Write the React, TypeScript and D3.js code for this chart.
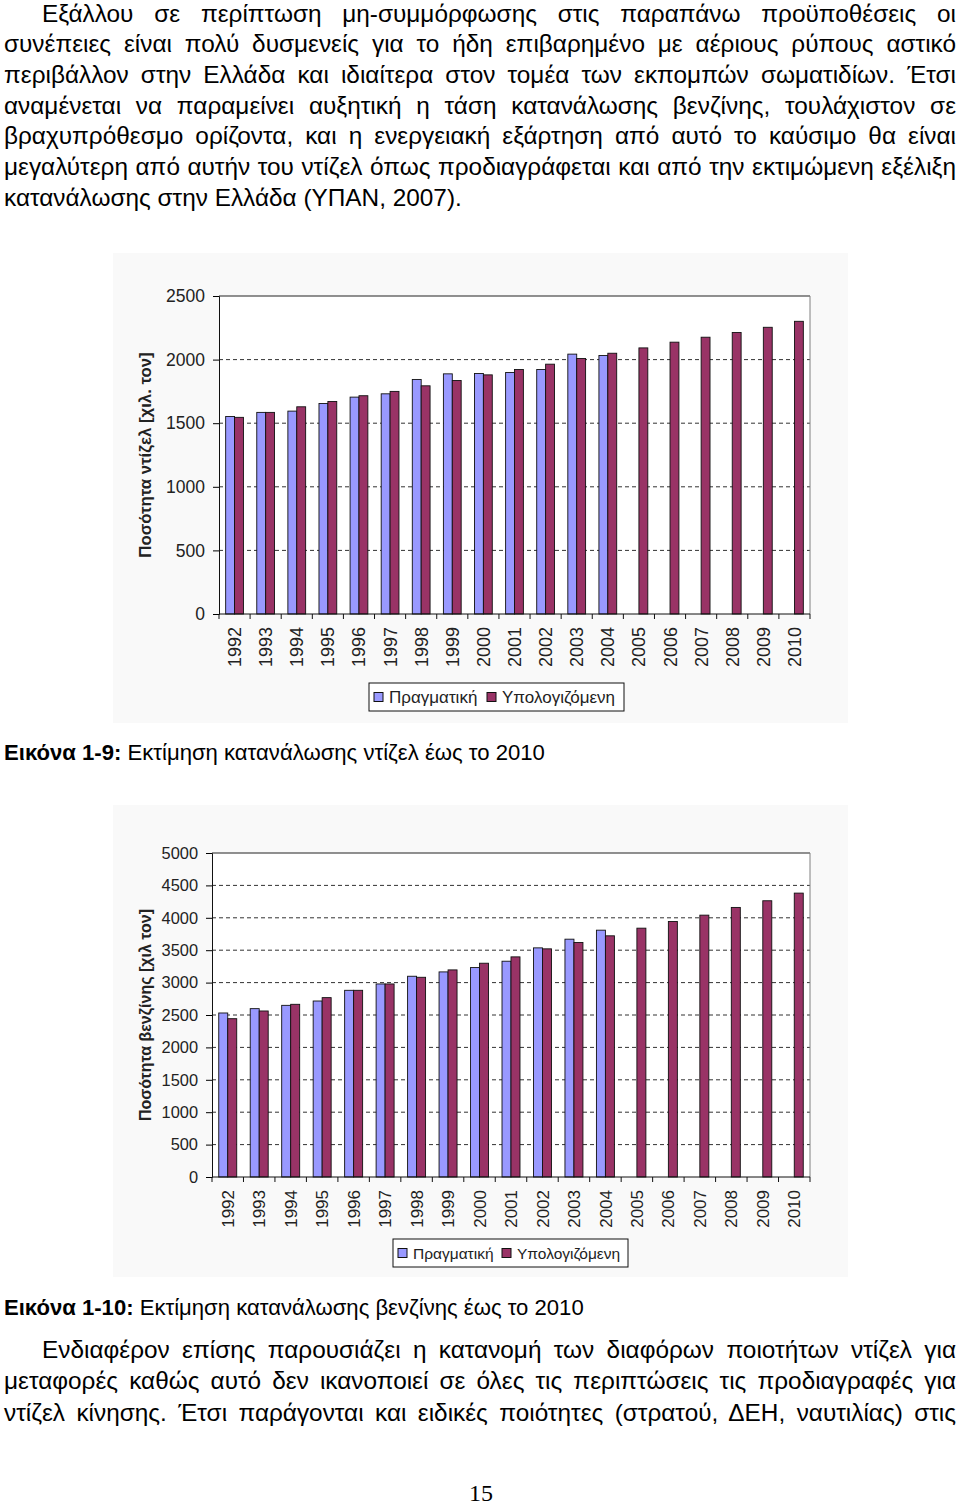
import React, { useEffect, useRef } from 'react';
import * as d3 from 'd3';

const years = ['1992','1993','1994','1995','1996','1997','1998','1999','2000','2001','2002','2003','2004','2005','2006','2007','2008','2009','2010'];
const dieselActual: (number | null)[] = [1553,1585,1595,1655,1705,1731,1844,1888,1891,1899,1922,2043,2032,null,null,null,null,null,null];
const dieselEstimated = [1546,1585,1629,1671,1716,1750,1794,1836,1880,1922,1964,2009,2050,2092,2137,2176,2213,2254,2301];
const petrolActual: (number | null)[] = [2531,2598,2649,2716,2881,2979,3098,3165,3232,3330,3536,3670,3809,null,null,null,null,null,null];
const petrolEstimated = [2443,2562,2665,2768,2881,2979,3082,3196,3299,3397,3521,3619,3722,3840,3943,4041,4160,4263,4381];
const dieselTicks = [0,500,1000,1500,2000,2500];
const petrolTicks = [0,500,1000,1500,2000,2500,3000,3500,4000,4500,5000];
const seriesNames = ['Πραγματική','Υπολογιζόμενη'];

const topParagraph = [
  'Εξάλλου σε περίπτωση μη-συμμόρφωσης στις παραπάνω προϋποθέσεις οι',
  'συνέπειες είναι πολύ δυσμενείς για το ήδη επιβαρημένο με αέριους ρύπους αστικό',
  'περιβάλλον στην Ελλάδα και ιδιαίτερα στον τομέα των εκπομπών σωματιδίων. Έτσι',
  'αναμένεται να παραμείνει αυξητική η τάση κατανάλωσης βενζίνης, τουλάχιστον σε',
  'βραχυπρόθεσμο ορίζοντα, και η ενεργειακή εξάρτηση από αυτό το καύσιμο θα είναι',
  'μεγαλύτερη από αυτήν του ντίζελ όπως προδιαγράφεται και από την εκτιμώμενη εξέλιξη',
  'κατανάλωσης στην Ελλάδα (ΥΠΑΝ, 2007).',
];
const bottomParagraph = [
  'Ενδιαφέρον επίσης παρουσιάζει η κατανομή των διαφόρων ποιοτήτων ντίζελ για',
  'μεταφορές καθώς αυτό δεν ικανοποιεί σε όλες τις περιπτώσεις τις προδιαγραφές για',
  'ντίζελ κίνησης. Έτσι παράγονται και ειδικές ποιότητες (στρατού, ΔΕΗ, ναυτιλίας) στις',
];
const caption1 = ['Εικόνα 1-9:', ' Εκτίμηση κατανάλωσης ντίζελ έως το 2010'];
const caption2 = ['Εικόνα 1-10:', ' Εκτίμηση κατανάλωσης βενζίνης έως το 2010'];

const BLUE = '#9999FF';
const RED = '#993366';
const FONT = '"Liberation Sans", Arial, sans-serif';

type Sel = d3.Selection<SVGSVGElement, unknown, null, undefined>;

type ChartCfg = {
  x0: number; x1: number; yTop: number; yBottom: number; max: number; ticks: number[];
  actual: (number | null)[]; estimated: number[]; title: string; titleX: number; titleFs: number;
  tickFs: number; xFs: number;
  bg: [number, number, number, number];
  legend: { x: number; y: number; w: number; h: number; x2: number; fs: number };
};

function drawChart(svg: Sel, c: ChartCfg) {
  const g = svg.append('g');
  g.append('rect').attr('x', c.bg[0]).attr('y', c.bg[1]).attr('width', c.bg[2]).attr('height', c.bg[3]).attr('fill', '#f9f9f9');
  g.append('rect').attr('x', c.x0).attr('y', c.yTop).attr('width', c.x1 - c.x0).attr('height', c.yBottom - c.yTop).attr('fill', '#ffffff');
  const x = d3.scaleBand().domain(years).range([c.x0, c.x1]).paddingInner(1.5 / 3.5).paddingOuter(0.75 / 3.5);
  const y = d3.scaleLinear().domain([0, c.max]).range([c.yBottom, c.yTop]);
  c.ticks.filter(t => t > 0 && t < c.max).forEach(t => {
    g.append('line').attr('x1', c.x0).attr('x2', c.x1).attr('y1', y(t)).attr('y2', y(t))
      .attr('stroke', '#333').attr('stroke-width', 1).attr('stroke-dasharray', '4,3');
  });
  g.append('line').attr('x1', c.x0).attr('x2', c.x1).attr('y1', c.yTop).attr('y2', c.yTop).attr('stroke', '#222');
  g.append('line').attr('x1', c.x1).attr('x2', c.x1).attr('y1', c.yTop).attr('y2', c.yBottom).attr('stroke', '#808080');
  const bw = x.bandwidth() / 2;
  years.forEach((yr, i) => {
    const a = c.actual[i];
    if (a != null) {
      g.append('rect').attr('x', x(yr)!).attr('y', y(a)).attr('width', bw).attr('height', y(0) - y(a))
        .attr('fill', BLUE).attr('stroke', '#111').attr('stroke-width', 0.9);
    }
    const e = c.estimated[i];
    g.append('rect').attr('x', x(yr)! + bw).attr('y', y(e)).attr('width', bw).attr('height', y(0) - y(e))
      .attr('fill', RED).attr('stroke', '#111').attr('stroke-width', 0.9);
  });
  const yAxis = d3.axisLeft(y).tickValues(c.ticks).tickSize(6).tickPadding(8).tickFormat(d3.format('d'));
  const ya = g.append('g').attr('transform', `translate(${c.x0},0)`).call(yAxis);
  ya.select('.domain').attr('stroke', '#111');
  ya.selectAll('text').attr('font-family', FONT).attr('font-size', c.tickFs).attr('fill', '#222');
  const step = x.step();
  const xa = g.append('g');
  xa.append('line').attr('x1', c.x0).attr('x2', c.x1).attr('y1', c.yBottom).attr('y2', c.yBottom).attr('stroke', '#111');
  for (let i = 0; i <= years.length; i++) {
    const tx = c.x0 + i * step;
    xa.append('line').attr('x1', tx).attr('x2', tx).attr('y1', c.yBottom).attr('y2', c.yBottom + 5).attr('stroke', '#111');
  }
  years.forEach(yr => {
    const cx = x(yr)! + x.bandwidth() / 2;
    xa.append('text').attr('transform', `translate(${cx + c.xFs * 0.36},${c.yBottom + 13}) rotate(-90)`)
      .attr('text-anchor', 'end').attr('font-family', FONT).attr('font-size', c.xFs).attr('fill', '#222').text(yr);
  });
  g.append('text').attr('transform', `translate(${c.titleX},${(c.yTop + c.yBottom) / 2}) rotate(-90)`)
    .attr('text-anchor', 'middle').attr('font-family', FONT).attr('font-weight', 'bold').attr('font-size', c.titleFs).attr('fill', '#222').text(c.title);
  const L = c.legend;
  g.append('rect').attr('x', L.x).attr('y', L.y).attr('width', L.w).attr('height', L.h).attr('fill', '#fff').attr('stroke', '#111');
  const cy = L.y + L.h / 2;
  [[L.x + 5, BLUE, seriesNames[0]], [L.x2, RED, seriesNames[1]]].forEach(([lx, col, name]) => {
    g.append('rect').attr('x', lx as number).attr('y', cy - 4.5).attr('width', 9).attr('height', 9).attr('fill', col as string).attr('stroke', '#111');
    g.append('text').attr('x', (lx as number) + 15).attr('y', cy + L.fs * 0.36).attr('font-family', FONT).attr('font-size', L.fs).attr('fill', '#222').text(name as string);
  });
}

function measure(svg: Sel, text: string, fs: number, bold = false) {
  const t = svg.append('text').attr('font-family', FONT).attr('font-size', fs).attr('font-weight', bold ? 'bold' : 'normal').text(text);
  const w = (t.node() as SVGTextElement).getComputedTextLength();
  t.remove();
  return w;
}

function justifyLine(svg: Sel, text: string, x0: number, x1: number, y: number, fs: number, justify: boolean) {
  const t = svg.append('text').attr('x', x0).attr('y', y).attr('font-family', FONT).attr('font-size', fs).attr('fill', '#000').text(text);
  if (justify) {
    const node = t.node() as SVGTextElement;
    const len = node.getComputedTextLength();
    const spaces = (text.match(/ /g) || []).length;
    if (spaces > 0) {
      const ws = (x1 - x0 - len) / spaces;
      if (ws >= -2) t.attr('word-spacing', ws);
      else t.attr('textLength', x1 - x0).attr('lengthAdjust', 'spacingAndGlyphs');
    }
  }
}

export default function App() {
  const ref = useRef<SVGSVGElement>(null);
  useEffect(() => {
    const svg = d3.select(ref.current!);
    svg.selectAll('*').remove();
    svg.append('rect').attr('width', 960).attr('height', 1505).attr('fill', '#fff');
    // fit font so that the last (unjustified) line spans like the reference (x 4..462)
    const base = 20;
    const fs = base * 458 / measure(svg, topParagraph[topParagraph.length - 1], base);
    const lh = 30.7;
    topParagraph.forEach((line, i) => {
      justifyLine(svg, line, i === 0 ? 42 : 4, 956, 21.5 + i * lh, fs, i < topParagraph.length - 1);
    });
    drawChart(svg, {
      x0: 219, x1: 810, yTop: 296, yBottom: 614, max: 2500, ticks: dieselTicks,
      actual: dieselActual, estimated: dieselEstimated, title: 'Ποσότητα ντίζελ [χιλ. τον]', titleX: 151, titleFs: 16.8,
      tickFs: 17.5, xFs: 18,
      bg: [113, 253, 735, 470],
      legend: { x: 369, y: 683, w: 255, h: 28, x2: 487, fs: 17 },
    });
    const cap = (parts: string[], y: number, width: number) => {
      const w = measure(svg, parts[0], base, true) + measure(svg, parts[1].trim(), base) + base * 0.28;
      const cfs = base * width / w;
      const t = svg.append('text').attr('x', 4).attr('y', y).attr('font-family', FONT).attr('font-size', cfs).attr('fill', '#000');
      t.append('tspan').attr('font-weight', 'bold').text(parts[0]);
      t.append('tspan').text(parts[1]);
    };
    cap(caption1, 759.5, 541);
    drawChart(svg, {
      x0: 212, x1: 810, yTop: 853, yBottom: 1177, max: 5000, ticks: petrolTicks,
      actual: petrolActual, estimated: petrolEstimated, title: 'Ποσότητα βενζίνης [χιλ τον]', titleX: 151, titleFs: 16,
      tickFs: 16.4, xFs: 17,
      bg: [113, 805, 735, 472],
      legend: { x: 393, y: 1239, w: 235, h: 28, x2: 502, fs: 15.5 },
    });
    cap(caption2, 1314.5, 580);
    bottomParagraph.forEach((line, i) => {
      justifyLine(svg, line, i === 0 ? 42 : 4, 956, 1358 + i * 31.3, fs, true);
    });
    svg.append('text').attr('x', 481).attr('y', 1501).attr('text-anchor', 'middle')
      .attr('font-family', '"Liberation Serif", "Times New Roman", serif').attr('font-size', 24).attr('fill', '#000').text('15');
  }, []);
  return (
    <svg ref={ref} width={960} height={1505} style={{ position: 'absolute', left: 0, top: 0, display: 'block' }} />
  );
}
